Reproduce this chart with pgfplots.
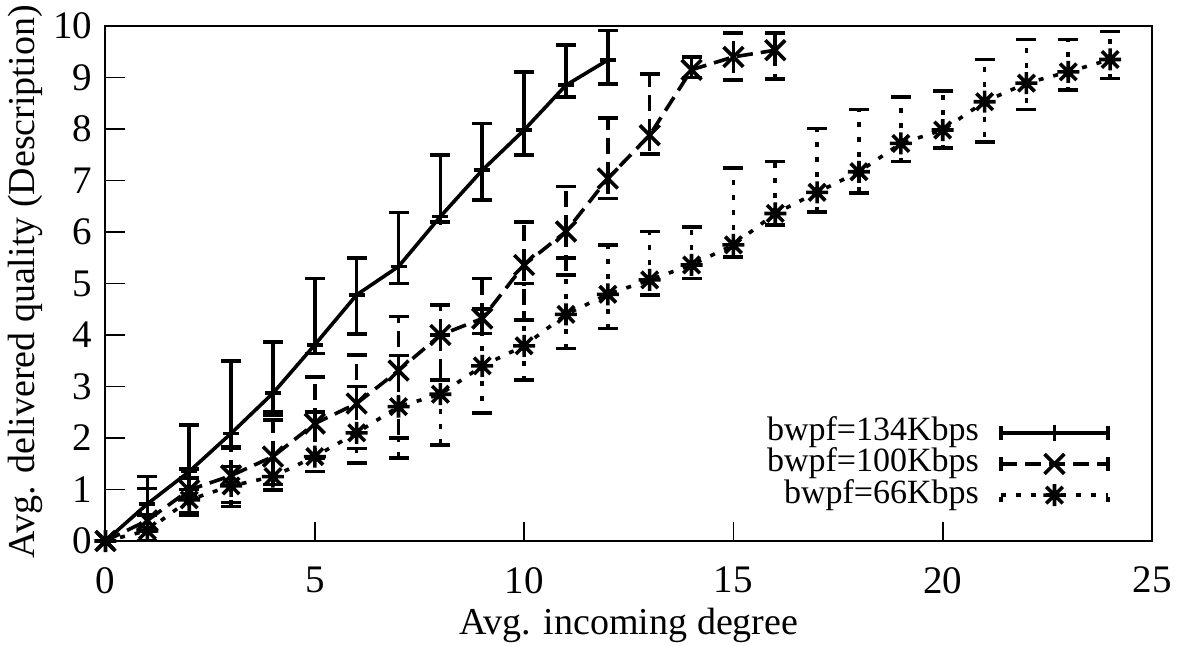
\documentclass[border=0pt]{standalone}
\usepackage{fontspec}
\setmainfont{Liberation Serif}
\usepackage{pgfplots}
\pgfplotsset{compat=1.18}
\usepackage{pgfplotstable}

\pgfdeclareplotmark{gstar}{%
  \pgfpathmoveto{\pgfqpoint{\pgfplotmarksize}{0pt}}%
  \pgfpathlineto{\pgfqpoint{-\pgfplotmarksize}{0pt}}%
  \pgfpathmoveto{\pgfqpoint{0pt}{\pgfplotmarksize}}%
  \pgfpathlineto{\pgfqpoint{0pt}{-\pgfplotmarksize}}%
  \pgfpathmoveto{\pgfqpoint{0.75\pgfplotmarksize}{0.75\pgfplotmarksize}}%
  \pgfpathlineto{\pgfqpoint{-0.75\pgfplotmarksize}{-0.75\pgfplotmarksize}}%
  \pgfpathmoveto{\pgfqpoint{-0.75\pgfplotmarksize}{0.75\pgfplotmarksize}}%
  \pgfpathlineto{\pgfqpoint{0.75\pgfplotmarksize}{-0.75\pgfplotmarksize}}%
  \pgfusepathqstroke}

% x  mean  high  low
\pgfplotstableread{
x y hi lo
0 0 0 0
1 0.72 1.25 0.50
2 1.35 2.25 1.22
3 2.09 3.50 1.83
4 2.87 3.87 2.51
5 3.81 5.10 3.64
6 4.78 5.49 4.02
7 5.33 6.38 5.00
8 6.30 7.50 6.20
9 7.20 8.11 6.62
10 7.98 9.11 7.50
11 8.85 9.63 8.62
12 9.34 9.91 8.87
}\dataA

\pgfplotstableread{
x y hi lo
0 0 0 0
1 0.40 1.02 0.20
2 0.99 1.40 0.54
3 1.27 1.80 0.75
4 1.64 2.35 1.10
5 2.28 3.19 1.60
6 2.67 3.61 1.80
7 3.31 4.36 2.00
8 4.00 4.58 3.13
9 4.32 5.10 4.03
10 5.36 6.20 4.29
11 6.01 6.88 5.17
12 7.04 8.21 6.65
13 7.88 9.07 7.51
14 9.15 9.40 9.00
15 9.40 9.86 8.95
16 9.53 9.86 8.97
}\dataB

\pgfplotstableread{
x y hi lo
0 0 0 0
1 0.20 0.50 0.00
2 0.80 1.00 0.50
3 1.07 1.45 0.67
4 1.25 2.45 0.99
5 1.64 2.50 1.35
6 2.10 3.00 1.51
7 2.61 3.60 1.61
8 2.85 4.00 1.86
9 3.40 4.50 2.48
10 3.79 5.00 3.13
11 4.40 5.49 3.74
12 4.79 5.75 4.13
13 5.07 6.01 4.78
14 5.36 6.10 5.10
15 5.75 7.24 5.52
16 6.36 7.37 6.14
17 6.77 8.01 6.39
18 7.17 8.38 6.76
19 7.72 8.62 7.37
20 7.98 8.74 7.63
21 8.53 9.35 7.75
22 8.89 9.74 8.38
23 9.11 9.74 8.76
24 9.35 9.89 8.98
}\dataC

\begin{document}
\begin{tikzpicture}
\begin{axis}[
  at={(0,0)}, anchor=south west,
  scale only axis, width=523.25pt, height=257.5pt,
  xmin=0, xmax=25, ymin=0, ymax=10,
  xtick={0,5,10,15,20,25}, ytick={0,1,2,3,4,5,6,7,8,9,10},
  tick align=inside, tick pos=left,
  major tick length=9.75pt,
  tick style={line width=0.9pt, black},
  axis line style={line width=1pt},
  /pgf/number format/assume math mode=true,
  tick label style={font=\fontsize{19.5}{22}\selectfont},
  xticklabel shift=9.5pt, yticklabel shift=3pt,
  label style={font=\fontsize{19}{22}\selectfont},
  xlabel={Avg. incoming degree},
  ylabel={Avg. delivered quality (Description)},
  xlabel style={at={(axis description cs:0.5,-0.163)}, anchor=center},
  ylabel style={at={(axis description cs:-0.0764,0.503)}, anchor=center},
  legend plot pos=right,
  legend cell align=right,
  legend style={at={(axis description cs:0.96,0.058)}, anchor=south east,
    draw=none, fill=none, inner sep=0pt,
    font=\fontsize{17}{19}\selectfont,
    nodes={inner sep=0.1pt, text height=11.7pt, text depth=3.7pt},
    /tikz/column sep=10pt, /tikz/row sep=0pt},
  legend image code/.code={%
    \draw[mark repeat=2,mark phase=2] plot coordinates {(0pt,0pt) (26.75pt,0pt) (53.5pt,0pt)};
    \draw (0pt,-3.5pt) -- (0pt,3.5pt) (53.5pt,-3.5pt) -- (53.5pt,3.5pt);
  },
  error bars/y dir=both, error bars/y explicit,
  error bars/error mark options={mark size=5pt, line width=1.8pt, rotate=90},
]
\addplot[black, line width=1.8pt, mark=+, mark size=4pt,
  error bars/error bar style={line width=1.8pt, solid}]
  table[x=x, y=y, y error plus expr=\thisrow{hi}-\thisrow{y}, y error minus expr=\thisrow{y}-\thisrow{lo}] {\dataA};
\addlegendentry{bwpf=134Kbps}
\addplot[black, line width=1.8pt, dash pattern=on 8pt off 4pt, mark=x, mark size=7pt, mark options={solid},
  error bars/error bar style={line width=1.8pt, dash pattern=on 8pt off 4pt}]
  table[x=x, y=y, y error plus expr=\thisrow{hi}-\thisrow{y}, y error minus expr=\thisrow{y}-\thisrow{lo}] {\dataB};
\addlegendentry{bwpf=100Kbps}
\addplot[black, line width=1.8pt, dash pattern=on 2.5pt off 5pt, mark=gstar, mark size=5.5pt, mark options={solid},
  error bars/error bar style={line width=1.8pt, dash pattern=on 2.5pt off 5pt}]
  table[x=x, y=y, y error plus expr=\thisrow{hi}-\thisrow{y}, y error minus expr=\thisrow{y}-\thisrow{lo}] {\dataC};
\addlegendentry{bwpf=66Kbps}
\end{axis}
\pgfresetboundingbox
\path (-52.75pt,-52pt) rectangle (540.25pt,270.5pt);
\end{tikzpicture}
\end{document}
